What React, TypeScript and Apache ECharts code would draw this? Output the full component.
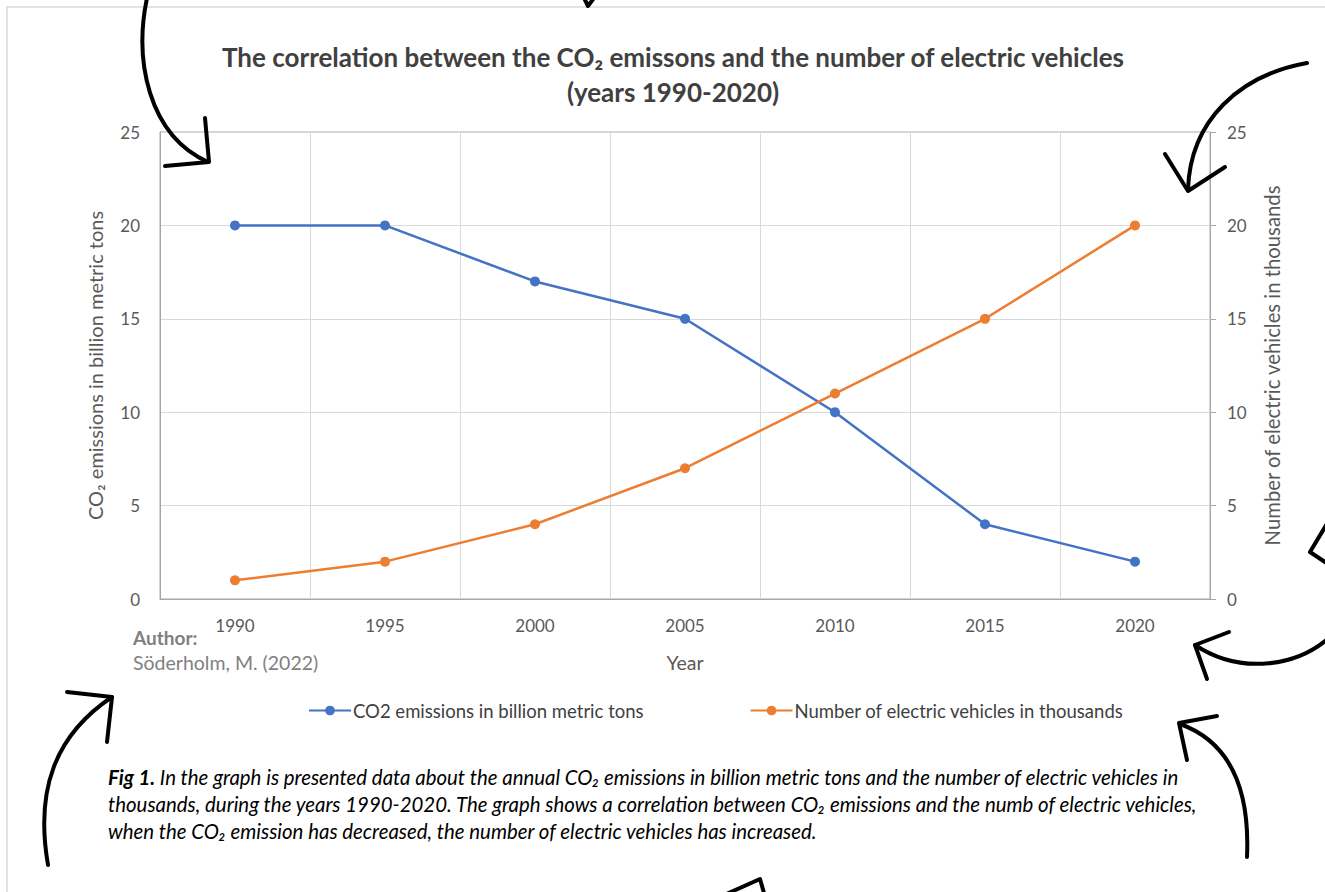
import React, { useEffect, useRef } from "react";
import * as echarts from "echarts";

const years = ["1990", "1995", "2000", "2005", "2010", "2015", "2020"];
const co2Emissions = [20, 20, 17, 15, 10, 4, 2];
const electricVehicles = [1, 2, 4, 7, 11, 15, 20];
const yTicks = { min: 0, max: 25, interval: 5 };

const FONT = "Lato, 'Open Sans', sans-serif";
const BLUE = "#4472C4";
const ORANGE = "#ED7D31";

const arrowStroke = { stroke: "#000", lineWidth: 4, fill: "none", lineCap: "round", lineJoin: "round" } as any;

function curve(x1: number, y1: number, c1x: number, c1y: number, c2x: number, c2y: number, x2: number, y2: number) {
  return {
    type: "bezierCurve",
    silent: true,
    z: 200,
    shape: { x1, y1, cpx1: c1x, cpy1: c1y, cpx2: c2x, cpy2: c2y, x2, y2 },
    style: { ...arrowStroke },
  };
}
function head(points: number[][]) {
  return { type: "polyline", silent: true, z: 200, shape: { points }, style: { ...arrowStroke } };
}

export default function App() {
  const ref = useRef<HTMLDivElement>(null);
  useEffect(() => {
    if (!ref.current) return;
    const chart = echarts.init(ref.current, undefined, { renderer: "svg" });
    const option: any = {
      animation: false,
      backgroundColor: "#ffffff",
      textStyle: { fontFamily: FONT },
      grid: {
        left: 160,
        right: 115,
        top: 132,
        bottom: 293,
        show: true,
        borderColor: "#a6a6a6",
        borderWidth: 1,
      },
      legend: {
        left: 303,
        top: 696,
        itemWidth: 42,
        itemHeight: 12,
        itemGap: 106,
        textStyle: { fontFamily: FONT, fontSize: 18.5, color: "#404040", padding: [0, 0, 0, -3] },
        data: ["CO2 emissions in billion metric tons", "Number of electric vehicles in thousands"],
      },
      xAxis: {
        type: "category",
        data: years,
        boundaryGap: true,
        name: "Year",
        nameLocation: "middle",
        nameGap: 53,
        nameTextStyle: { fontFamily: FONT, fontSize: 19.5, color: "#595959" },
        axisLine: { show: true, lineStyle: { color: "#a6a6a6", width: 1 } },
        axisTick: { show: false },
        axisLabel: { fontFamily: FONT, fontSize: 17, color: "#595959", margin: 18 },
        splitLine: { show: true, lineStyle: { color: "#d9d9d9", width: 1 } },
      },
      yAxis: [
        {
          type: "value",
          ...yTicks,
          name: "CO₂ emissions in billion metric tons",
          nameLocation: "middle",
          nameGap: 55,
          nameTextStyle: { fontFamily: FONT, fontSize: 20, color: "#595959" },
          axisLine: { show: true, lineStyle: { color: "#a6a6a6", width: 1 } },
          axisTick: { show: false },
          axisLabel: { fontFamily: FONT, fontSize: 17, color: "#595959", margin: 20 },
          splitLine: { show: true, lineStyle: { color: "#d9d9d9", width: 1 } },
        },
        {
          type: "value",
          ...yTicks,
          position: "right",
          name: "Number of electric vehicles in thousands",
          nameLocation: "middle",
          nameGap: 52,
          nameTextStyle: { fontFamily: FONT, fontSize: 20.3, color: "#595959" },
          axisLine: { show: true, lineStyle: { color: "#a6a6a6", width: 1 } },
          axisTick: { show: true, length: 6, inside: false, lineStyle: { color: "#a6a6a6" } },
          axisLabel: { fontFamily: FONT, fontSize: 17, color: "#595959", margin: 17 },
          splitLine: { show: false },
        },
      ],
      series: [
        {
          name: "CO2 emissions in billion metric tons",
          type: "line",
          yAxisIndex: 0,
          data: co2Emissions,
          color: BLUE,
          symbol: "circle",
          symbolSize: 10,
          lineStyle: { width: 2.5, color: BLUE },
          itemStyle: { color: BLUE },
        },
        {
          name: "Number of electric vehicles in thousands",
          type: "line",
          yAxisIndex: 1,
          data: electricVehicles,
          color: ORANGE,
          symbol: "circle",
          symbolSize: 10,
          lineStyle: { width: 2.5, color: ORANGE },
          itemStyle: { color: ORANGE },
        },
      ],
      graphic: [
        {
          type: "rect",
          silent: true,
          z: -1,
          shape: { x: 7, y: 7, width: 1400, height: 1000 },
          style: { fill: "none", stroke: "#d9d9d9", lineWidth: 1.5 },
        },
        {
          type: "text",
          x: 673,
          y: 74.5,
          style: {
            text: "The correlation between the CO₂ emissons and the number of electric vehicles\n(years 1990-2020)",
            fontFamily: FONT,
            fontWeight: "bold",
            fontSize: 26,
            lineHeight: 35,
            fill: "#404040",
            align: "center",
            verticalAlign: "middle",
          },
        },
        {
          type: "text",
          x: 133,
          y: 637,
          style: {
            text: "Author:",
            fontFamily: FONT,
            fontWeight: "bold",
            fontSize: 19,
            fill: "#808080",
            verticalAlign: "middle",
          },
        },
        {
          type: "text",
          x: 133,
          y: 662,
          style: {
            text: "Söderholm, M. (2022)",
            fontFamily: FONT,
            fontSize: 19.5,
            fill: "#808080",
            verticalAlign: "middle",
          },
        },
        {
          type: "text",
          x: 108,
          y: 804,
          style: {
            text:
              "{b|Fig 1.}{i| In the graph is presented data about the annual CO₂ emissions in billion metric tons and the number of electric vehicles in}\n" +
              "{i|thousands, during the years 1990-2020. The graph shows a correlation between CO₂ emissions and the numb of electric vehicles,}\n" +
              "{i|when the CO₂ emission has decreased, the number of electric vehicles has increased.}",
            fontFamily: FONT,
            fontSize: 20.4,
            lineHeight: 27,
            fill: "#000",
            verticalAlign: "middle",
            rich: {
              b: { fontFamily: FONT, fontSize: 20.4, fontWeight: "bold", fontStyle: "italic", lineHeight: 27, fill: "#000" },
              i: { fontFamily: FONT, fontSize: 20.4, fontStyle: "italic", lineHeight: 27, fill: "#000" },
            },
          },
        },
        // hand-drawn arrows
        curve(147, -2, 134, 60, 148, 135, 208, 162),
        head([[205, 118], [209, 162], [165, 166]]),
        curve(1307, 63, 1240, 75, 1190, 120, 1188, 190),
        head([[1165, 154], [1188, 191], [1225, 167]]),
        head([[1340, 502], [1310, 552], [1340, 572]]),
        curve(1335, 632, 1300, 668, 1240, 675, 1195, 645),
        head([[1229, 632], [1195, 645], [1207, 679]]),
        curve(1180, 724, 1230, 742, 1250, 790, 1247, 857),
        head([[1217, 716], [1179, 723], [1187, 760]]),
        curve(48, 865, 35, 790, 55, 735, 112, 697),
        head([[67, 692], [112, 697], [107, 742]]),
        head([[722, 896], [760, 879], [766, 900]]),
        head([[584, -2], [588, 6], [594, -2]]),
      ],
    };
    chart.setOption(option);
    return () => chart.dispose();
  }, []);
  return <div ref={ref} style={{ position: "fixed", left: 0, top: 0, width: 1325, height: 892 }} />;
}
